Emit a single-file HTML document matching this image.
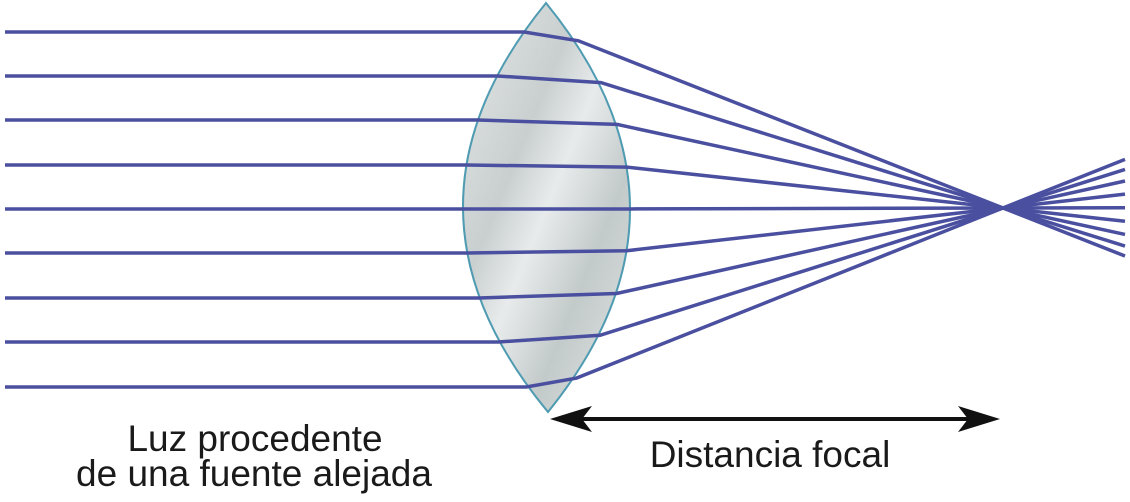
<!DOCTYPE html>
<html><head><meta charset="utf-8"><style>
html,body{margin:0;padding:0;background:#fff;}
svg{display:block;}
text{font-family:"Liberation Sans",Arial,sans-serif;fill:#1a1a1a;}
</style></head><body>
<svg id="d" width="1130" height="502" viewBox="0 0 1130 502">
<defs>
<linearGradient id="lg" x1="0" y1="0" x2="1" y2="1">
<stop offset="0" stop-color="#e4e7e7"/><stop offset="0.35" stop-color="#c9cfcf"/>
<stop offset="0.5" stop-color="#e8ebeb"/><stop offset="0.7" stop-color="#c3caca"/>
<stop offset="1" stop-color="#e2e5e5"/></linearGradient>
</defs>
<path d="M546,3 Q379,208 548,412 Q713,208 546,3 Z" fill="url(#lg)" stroke="#4f9bb2" stroke-width="2"/>
<g id="rays"></g>
<g>
<line x1="575" y1="419" x2="975" y2="419" stroke="#111" stroke-width="4"/>
<path d="M550,419 L592,406 L582,419 L592,432 Z" fill="#111"/>
<path d="M1000,419 L958,406 L968,419 L958,432 Z" fill="#111"/>
</g>
<text x="255" y="451" font-size="37" text-anchor="middle">Luz procedente</text>
<text x="254" y="486" font-size="37" text-anchor="middle">de una fuente alejada</text>
<text x="770" y="467" font-size="37" text-anchor="middle">Distancia focal</text>
</svg>
<script>
const rayYs=[32,76,120,165,209,253,298,342,387];
const focusX=1003, focusY=208;
const g=document.getElementById('rays');
const NS='http://www.w3.org/2000/svg';
rayYs.forEach(function(y){
  const t=(y-208)/205, t2=t*t;
  const xl=463+83*t2, xr=630-70*t2;
  const ye=y+(focusY-y)*0.05;
  const s=(focusY-ye)/(focusX-xr);
  const yEnd=focusY+s*(1125-focusX);
  const p=document.createElementNS(NS,'polyline');
  p.setAttribute('points','5,'+y+' '+xl+','+y+' '+xr+','+ye+' 1125,'+yEnd);
  p.setAttribute('fill','none');
  p.setAttribute('stroke','#4a509f');
  p.setAttribute('stroke-width','3.5');
  
  
  g.appendChild(p);
});
</script>
</body></html>
